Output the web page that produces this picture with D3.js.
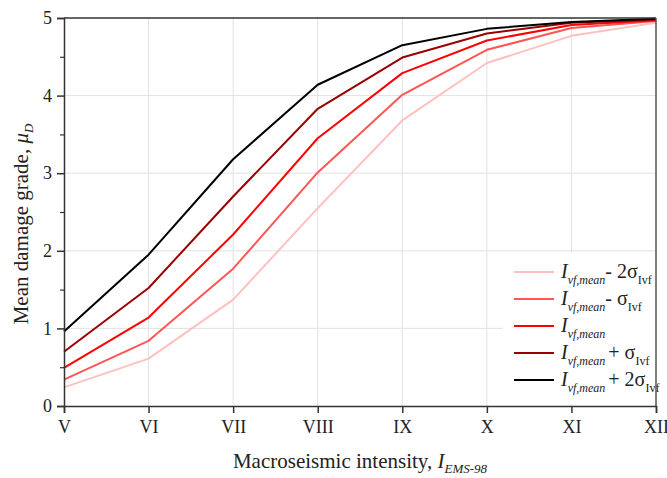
<!DOCTYPE html>
<html>
<head>
<meta charset="utf-8">
<script src="https://cdn.jsdelivr.net/npm/d3@7"></script>
<style>
  body { margin: 0; background: #fff; }
  text { font-family: "Liberation Serif", "Times New Roman", serif; fill: #222; }
</style>
</head>
<body>
<div id="root"></div>
<script>
// intensity levels on the x axis
const intensities = ["V", "VI", "VII", "VIII", "IX", "X", "XI", "XII"];

// mean damage grade per intensity, one array per curve
const minus2Sigma = [0.24, 0.61, 1.37, 2.55, 3.68, 4.42, 4.77, 4.94];
const minus1Sigma = [0.34, 0.84, 1.77, 3.01, 4.01, 4.59, 4.87, 4.96];
const meanCurve   = [0.49, 1.14, 2.21, 3.45, 4.29, 4.71, 4.91, 4.97];
const plus1Sigma  = [0.70, 1.52, 2.70, 3.83, 4.49, 4.80, 4.94, 4.98];
const plus2Sigma  = [0.96, 1.95, 3.18, 4.14, 4.65, 4.86, 4.95, 4.99];

const legendOps = ["- 2σ", "- σ", "", "+ σ", "+ 2σ"];
const yTicks = [0, 1, 2, 3, 4, 5];

const series = [
  { values: minus2Sigma, color: "#ffc0c0", op: legendOps[0] },
  { values: minus1Sigma, color: "#ff5555", op: legendOps[1] },
  { values: meanCurve,   color: "#ff0000", op: legendOps[2] },
  { values: plus1Sigma,  color: "#990000", op: legendOps[3] },
  { values: plus2Sigma,  color: "#000000", op: legendOps[4] }
];

const width = 667, height = 478;
const margin = { top: 18, right: 11, bottom: 72, left: 64 };

const svg = d3.select("#root").append("svg")
  .attr("width", width)
  .attr("height", height);

const x = d3.scalePoint()
  .domain(intensities)
  .range([margin.left, width - margin.right]);

const y = d3.scaleLinear()
  .domain([0, 5])
  .range([height - margin.bottom, margin.top]);

// grid lines
svg.append("g")
  .selectAll("line.gx")
  .data(intensities.slice(1, -1))
  .join("line")
  .attr("x1", d => x(d)).attr("x2", d => x(d))
  .attr("y1", y(0)).attr("y2", y(5))
  .attr("stroke", "#e2e2e2").attr("stroke-width", 1);

svg.append("g")
  .selectAll("line.gy")
  .data(yTicks.slice(1, -1))
  .join("line")
  .attr("x1", x("V")).attr("x2", x("XII"))
  .attr("y1", d => y(d)).attr("y2", d => y(d))
  .attr("stroke", "#e2e2e2").attr("stroke-width", 1);

// legend background (covers grid)
const legendG = svg.append("g");

// curves
const line = d3.line()
  .x((d, i) => x(intensities[i]))
  .y(d => y(d));

svg.append("g")
  .selectAll("path")
  .data(series)
  .join("path")
  .attr("d", d => line(d.values))
  .attr("fill", "none")
  .attr("stroke", d => d.color)
  .attr("stroke-width", 2)
  .attr("stroke-linejoin", "round");

// frame (top and right)
svg.append("line")
  .attr("x1", x("V")).attr("x2", x("XII"))
  .attr("y1", y(5)).attr("y2", y(5))
  .attr("stroke", "#333").attr("stroke-width", 1.5);
svg.append("line")
  .attr("x1", x("XII")).attr("x2", x("XII"))
  .attr("y1", y(5)).attr("y2", y(0))
  .attr("stroke", "#555").attr("stroke-width", 1.5);

// x axis
const xAxis = svg.append("g")
  .attr("transform", `translate(0,${y(0)})`)
  .call(d3.axisBottom(x).tickSize(7).tickPadding(7));
xAxis.select(".domain").attr("stroke", "#333").attr("stroke-width", 1.5);
xAxis.selectAll(".tick line").attr("stroke", "#333").attr("stroke-width", 1.5);
xAxis.selectAll("text").style("font-size", "18px").attr("fill", "#222")
  .style("font-family", "'Liberation Serif', serif");

// y axis, minor ticks first
const yMinor = svg.append("g")
  .attr("transform", `translate(${x("V")},0)`)
  .call(d3.axisLeft(y).tickValues(d3.range(0.5, 5, 1)).tickSize(4).tickFormat(""));
yMinor.select(".domain").remove();
yMinor.selectAll(".tick line").attr("stroke", "#333").attr("stroke-width", 1.2);

const yAxis = svg.append("g")
  .attr("transform", `translate(${x("V")},0)`)
  .call(d3.axisLeft(y).tickValues(yTicks).tickSize(7).tickPadding(5).tickFormat(d3.format("d")));
yAxis.select(".domain").attr("stroke", "#333").attr("stroke-width", 1.5);
yAxis.selectAll(".tick line").attr("stroke", "#333").attr("stroke-width", 1.5);
yAxis.selectAll("text").style("font-size", "18px").attr("fill", "#222")
  .style("font-family", "'Liberation Serif', serif");

// axis titles
const xt = svg.append("text")
  .attr("x", (x("V") + x("XII")) / 2)
  .attr("y", 468)
  .attr("text-anchor", "middle")
  .style("font-size", "21px");
xt.append("tspan").text("Macroseismic intensity, ");
xt.append("tspan").attr("font-style", "italic").text("I");
xt.append("tspan").attr("font-style", "italic").style("font-size", "13px").attr("dy", 5).text("EMS-98");

const yt = svg.append("text")
  .attr("transform", `translate(28,${(y(0) + y(5)) / 2 + 12}) rotate(-90)`)
  .attr("text-anchor", "middle")
  .style("font-size", "21px");
yt.append("tspan").text("Mean damage grade, ");
yt.append("tspan").attr("font-style", "italic").text("μ");
yt.append("tspan").attr("font-style", "italic").style("font-size", "13px").attr("dy", 5).text("D");

// legend
legendG.append("rect")
  .attr("x", 503).attr("y", 253)
  .attr("width", x("XII") - 503 - 1).attr("height", y(0) - 253 - 2)
  .attr("fill", "#fff");

const rowH = 27;
const rows = legendG.selectAll("g.row")
  .data(series)
  .join("g")
  .attr("transform", (d, i) => `translate(514,${272 + i * rowH})`);

rows.append("line")
  .attr("x1", 0).attr("x2", 40)
  .attr("stroke", d => d.color).attr("stroke-width", 2);

const lt = rows.append("text")
  .attr("x", 47).attr("y", 6)
  .style("font-size", "20px");
lt.append("tspan").attr("font-style", "italic").text("I");
lt.append("tspan").attr("font-style", "italic").style("font-size", "12px").attr("dy", 6).text("vf,mean");
lt.append("tspan").attr("dy", -6).attr("dx", d => d.op.startsWith("+") ? 3 : 0)
  .text(d => d.op);
lt.filter(d => d.op !== "").append("tspan")
  .style("font-size", "12px").attr("dy", 6).text("Ivf");
</script>
</body>
</html>
